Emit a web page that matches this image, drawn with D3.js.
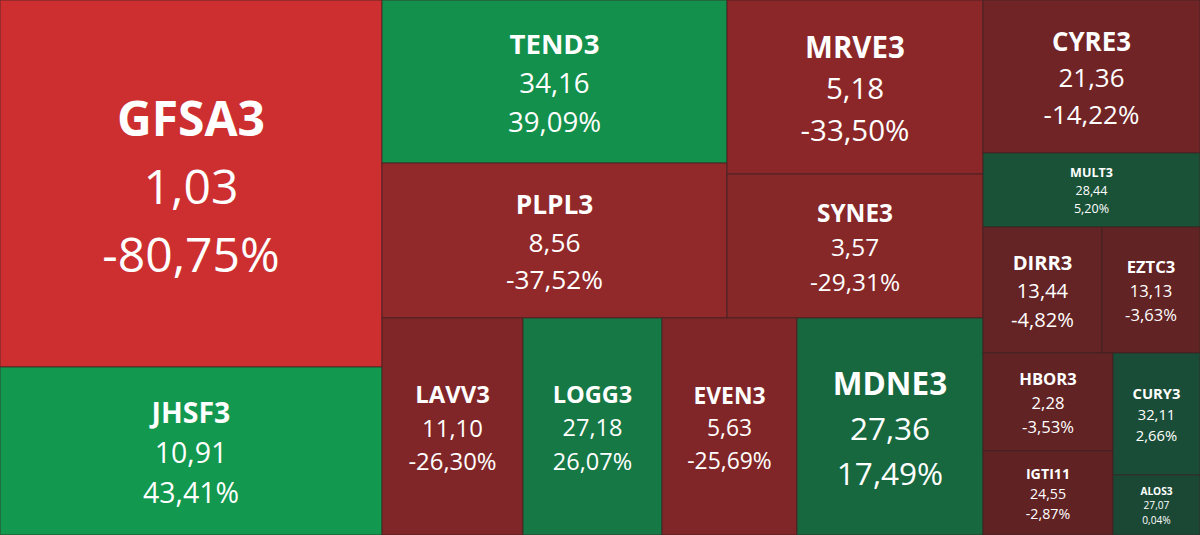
<!DOCTYPE html>
<html>
<head>
<meta charset="utf-8">
<script src="https://cdn.jsdelivr.net/npm/d3@7"></script>
<style>
  html, body { margin: 0; padding: 0; background: #ffffff; }
  svg { display: block; }
  text { font-family: "Open Sans", "Noto Sans", sans-serif; fill: #ffffff; }
</style>
</head>
<body>
<div id="chart"></div>
<script>
// ===== DADOS =====
const tickers = ["GFSA3", "JHSF3", "TEND3", "PLPL3", "MRVE3", "SYNE3", "LAVV3", "LOGG3", "EVEN3",
                 "MDNE3", "CYRE3", "MULT3", "DIRR3", "EZTC3", "HBOR3", "IGTI11", "CURY3", "ALOS3"];
const prices  = [1.03, 10.91, 34.16, 8.56, 5.18, 3.57, 11.10, 27.18, 5.63,
                 27.36, 21.36, 28.44, 13.44, 13.13, 2.28, 24.55, 32.11, 27.07];
const changes = [-80.75, 43.41, 39.09, -37.52, -33.50, -29.31, -26.30, 26.07, -25.69,
                 17.49, -14.22, 5.20, -4.82, -3.63, -3.53, -2.87, 2.66, 0.04];
// peso de cada ativo (tamanho do bloco)
const weights = [140.2, 64.2, 56.2, 53.5, 44.5, 36.9, 30.6, 30.2, 29.3,
                 40.4, 33.2, 16.1, 15.0, 12.3, 12.7, 10.9, 10.6, 5.2];

// agrupamento do treemap (slice / dice alternado por nível)
const groups = [
  ["GFSA3", "JHSF3"],
  [[["TEND3", "PLPL3"], ["MRVE3", "SYNE3"]], ["LAVV3", "LOGG3", "EVEN3", "MDNE3"]],
  ["CYRE3", "MULT3", ["DIRR3", "EZTC3"], [["HBOR3", "IGTI11"], ["CURY3", "ALOS3"]]]
];

const width = 1200;
const height = 535;

const byTicker = {};
tickers.forEach((t, i) => {
  byTicker[t] = { ticker: t, price: prices[i], change: changes[i], weight: weights[i] };
});

// ===== CORES =====
const minChange = d3.min(changes);
const maxChange = d3.max(changes);
const redScale = d3.scaleLinear().domain([minChange, 0]).range(["#cd2f30", "#5d2224"]);
const greenScale = d3.scaleLinear().domain([0, maxChange]).range(["#1b4835", "#12984f"]);
const color = v => v < 0 ? redScale(v) : greenScale(v);

const fmt = (v, n) => v.toFixed(n).replace(".", ",");

// ===== TREEMAP =====
const root = d3.hierarchy(groups, d => Array.isArray(d) ? d : null)
  .sum(d => typeof d === "string" ? byTicker[d].weight : 0);

d3.treemap()
  .tile(d3.treemapSliceDice)
  .size([width, height])
  .round(true)(root);

const svg = d3.select("#chart").append("svg")
  .attr("width", width)
  .attr("height", height);

const cells = svg.selectAll("g")
  .data(root.leaves())
  .enter()
  .append("g")
  .attr("transform", d => `translate(${d.x0},${d.y0})`);

cells.append("rect")
  .attr("width", d => d.x1 - d.x0)
  .attr("height", d => d.y1 - d.y0)
  .attr("fill", d => color(byTicker[d.data].change))
  .attr("stroke", "rgba(60,35,35,0.6)")
  .attr("stroke-width", 1.2);

cells.each(function(d) {
  const item = byTicker[d.data];
  const w = d.x1 - d.x0;
  const h = d.y1 - d.y0;
  const fs = Math.min(48, Math.min(w, h) / 5.9);
  const lh = fs * 1.42;
  const cx = w / 2;
  const cy = h / 2 + fs * 0.06;
  const lines = [item.ticker, fmt(item.price, 2), fmt(item.change, 2) + "%"];

  lines.forEach((txt, i) => {
    d3.select(this).append("text")
      .attr("x", cx)
      .attr("y", cy + (i - 1) * lh + fs * 0.36)
      .attr("text-anchor", "middle")
      .attr("font-size", fs)
      .attr("font-weight", i === 0 ? 700 : 400)
      .text(txt);
  });
});
</script>
</body>
</html>
